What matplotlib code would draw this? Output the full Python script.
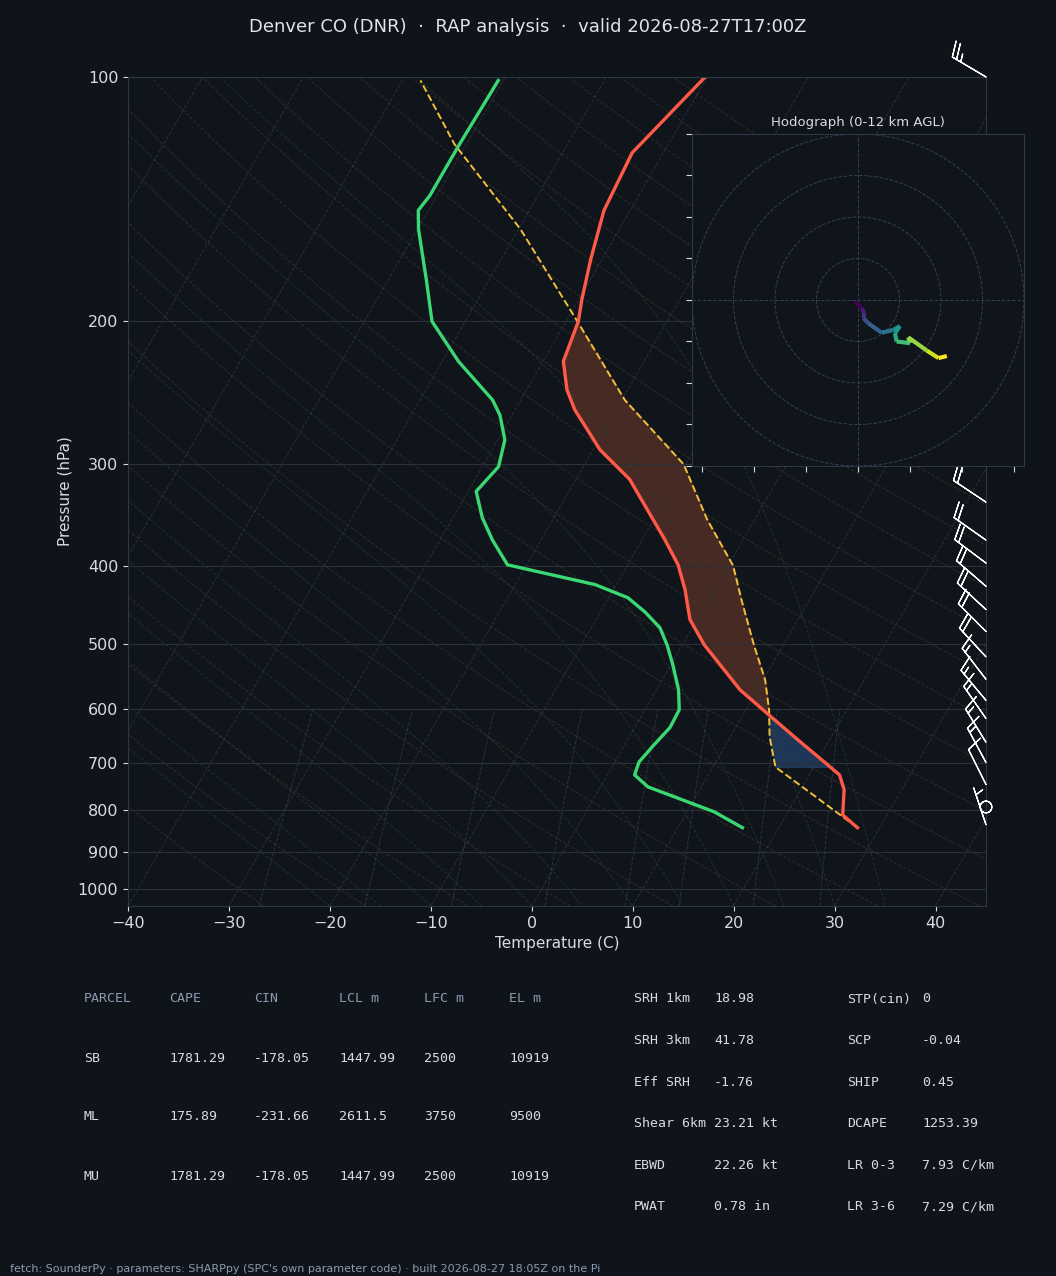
import numpy as np
import matplotlib
matplotlib.use('Agg')
import matplotlib.pyplot as plt
from matplotlib.collections import LineCollection

# Sounding
p_env = [841, 811, 755, 724, 703, 659, 611, 569, 501, 466, 428, 399, 372, 313, 288,
         257, 243, 224, 200, 188, 168, 146, 124, 100]
t_env = [27.8, 25.6, 24.3, 23.0, 21.2, 17.2, 12.6, 8.3, 2.2, -0.7, -2.9, -5.0, -7.7, -14.7, -19.3,
         -24.1, -26.0, -28.0, -28.8, -29.7, -31.1, -32.6, -33.1, -30.2]
p_dew = [841, 804, 749, 724, 698, 665, 633, 602, 569, 530, 501, 477, 456, 438, 422, 399, 372,
         349, 324, 302, 280, 261, 250, 224, 200, 178, 154, 146, 140, 122, 101]
t_dew = [16.4, 12.7, 4.7, 2.7, 2.4, 2.9, 3.5, 3.4, 2.2, 0.2, -1.5, -3.2, -5.6, -8.1, -12.1, -21.9, -24.8,
         -27.1, -29.2, -28.4, -29.3, -31.2, -32.8, -38.4, -43.3, -46.2, -49.9, -51.0, -50.7, -50.7, -50.5]
p_parcel = [841, 708, 650, 602, 553, 501, 441, 400, 351, 300, 250, 200, 154, 121, 101]
t_parcel = [27.8, 16.2, 13.9, 12.3, 10.2, 7.1, 3.3, 0.5, -4.7, -10.2, -19.7, -28.9, -39.8, -51.2, -58.2]

# Winds (kt)
p_wind = [100, 150, 200, 250, 300, 334, 372, 397, 424, 453, 482, 518, 552, 586, 617,
          660, 699, 744, 793, 834]
u_wind = [22, 20, 19, 19, 18, 18, 17, 16, 15, 14, 13, 12, 10, 10, 9, 8, 7, 5, 0, 1]
v_wind = [-13, -14, -14, -12, -13, -12, -12, -12, -13, -13, -13, -13, -13, -12, -13, -13,
          -13, -10, 0, -3]

# Hodograph trace (kt)
hodo_u = [-0.6, 0.9, 1.5, 1.3, 2.5, 5.7, 8.5, 10.1, 8.9, 9.3, 12.5, 12.1, 16.6, 19.4, 21.4]
hodo_v = [-0.4, -2.0, -3.2, -4.4, -5.6, -7.9, -7.2, -6.3, -8.0, -10.0, -10.4, -9.0, -12.2, -14.0, -13.5]

parcel_hdr = ['PARCEL', 'CAPE', 'CIN', 'LCL m', 'LFC m', 'EL m']
parcel_rows = [['SB', '1781.29', '-178.05', '1447.99', '2500', '10919'],
               ['ML', '175.89', '-231.66', '2611.5', '3750', '9500'],
               ['MU', '1781.29', '-178.05', '1447.99', '2500', '10919']]
param_left = [('SRH 1km', '18.98'), ('SRH 3km', '41.78'), ('Eff SRH', '-1.76'),
              ('Shear 6km', '23.21 kt'), ('EBWD', '22.26 kt'), ('PWAT', '0.78 in')]
param_right = [('STP(cin)', '0'), ('SCP', '-0.04'), ('SHIP', '0.45'),
               ('DCAPE', '1253.39'), ('LR 0-3', '7.93 C/km'), ('LR 3-6', '7.29 C/km')]

BG = '#0f131a'
SKEW = 46.4
P_BOT = 1050


def skew(t, p):
    return np.asarray(t) + SKEW * np.log10(P_BOT / np.asarray(p, dtype=float))


def moist_lapse(t0, p):
    # crude pseudo-adiabat integration from 1050 hPa
    out = []
    t = t0 + 273.15
    prev = p[0]
    for pp in p:
        dp = pp - prev
        es = 6.112 * np.exp(17.67 * (t - 273.15) / (t - 29.65))
        rs = 0.622 * es / (pp - es)
        num = 287.0 * t + 2.5e6 * rs
        den = 1004.0 + 2.5e6 ** 2 * rs * 0.622 / (287.0 * t * t)
        t = t + num / den / pp * dp
        prev = pp
        out.append(t - 273.15)
    return np.array(out)


fig = plt.figure(figsize=(10.56, 12.76), dpi=100, facecolor=BG)
ax = fig.add_axes([0.1212, 0.2900, 0.8125, 0.6497], facecolor='#10141b')
ax.set_yscale('log')
ax.set_ylim(P_BOT, 100)
ax.set_xlim(-40, 45)

pp = np.linspace(P_BOT, 100, 120)
for t in range(-120, 60, 10):
    ax.plot(skew(t, pp), pp, color='#353c47', lw=0.7, ls='--', alpha=0.7)
for th in range(-30, 200, 10):
    tk = (th + 273.15) * (pp / 1000.0) ** 0.286 - 273.15
    ax.plot(skew(tk, pp), pp, color='#463c2e', lw=0.7, ls='--', alpha=0.6)
pm = np.linspace(1050, 100, 200)
for t0 in range(-20, 40, 5):
    ax.plot(skew(moist_lapse(t0, pm), pm), pm, color='#2c4432', lw=0.7, ls='--', alpha=0.6)
pw = np.linspace(1050, 600, 50)
for w in [0.4, 1, 2, 4, 7, 10, 16, 24]:
    e = pw * w / 1000.0 / (0.622 + w / 1000.0)
    td = 243.5 * np.log(e / 6.112) / (17.67 - np.log(e / 6.112))
    ax.plot(skew(td, pw), pw, color='#36444a', lw=0.7, ls='--', alpha=0.7)

for p in [100, 200, 300, 400, 500, 600, 700, 800, 900, 1000]:
    ax.axhline(p, color='#2a313c', lw=0.8)

# CAPE / CIN shading
pg = np.linspace(841, 200, 400)
lp_e = np.log(p_env)[::-1]
lp_p = np.log(p_parcel)[::-1]
xe = skew(np.interp(np.log(pg), lp_e, np.array(t_env)[::-1]), pg)
xp = skew(np.interp(np.log(pg), lp_p, np.array(t_parcel)[::-1]), pg)
ax.fill_betweenx(pg, xe, xp, where=(xp > xe) & (pg < 620), color='#4a2c24', alpha=0.95)
ax.fill_betweenx(pg, xe, xp, where=(xe > xp) & (pg < 708) & (pg > 600), color='#1f3a5c', alpha=0.95)

ax.plot(skew(t_parcel, p_parcel), p_parcel, color='#f2c037', lw=1.4, ls='--')
ax.plot(skew(t_env, p_env), p_env, color='#ff5a48', lw=2.4)
ax.plot(skew(t_dew, p_dew), p_dew, color='#3ad872', lw=2.4)

ax.barbs(np.full(len(p_wind), 45.0), p_wind, u_wind, v_wind, length=7.5, color='white',
         lw=0.9, clip_on=False, zorder=5)

ticks = [100, 200, 300, 400, 500, 600, 700, 800, 900, 1000]
ax.set_yticks(ticks)
ax.set_yticklabels([str(t) for t in ticks])
ax.yaxis.set_minor_locator(matplotlib.ticker.NullLocator())
ax.set_xticks(range(-40, 50, 10))
ax.set_xticklabels(['\u2212%d' % -t if t < 0 else str(t) for t in range(-40, 50, 10)])
ax.tick_params(colors='#d8dce2', labelsize=11.5)
for s in ax.spines.values():
    s.set_color('#2e3746')
ax.set_xlabel('Temperature (C)', color='#d8dce2', fontsize=11)
ax.set_ylabel('Pressure (hPa)', color='#d8dce2', fontsize=11)

fig.text(0.5, 0.979, 'Denver CO (DNR)  \u00b7  RAP analysis  \u00b7  valid 2026-08-27T17:00Z',
         ha='center', va='center', color='#e0e3e8', fontsize=13)

# Hodograph inset
hx = fig.add_axes([0.6553, 0.6348, 0.3144, 0.2602], facecolor='#10141b', zorder=10)
hx.set_xlim(-40, 40)
hx.set_ylim(-40, 40)
for r in [10, 20, 30, 40]:
    hx.add_patch(plt.Circle((0, 0), r, fill=False, ls='--', lw=0.7, color='#34404f'))
hx.axhline(0, color='#34404f', ls='--', lw=0.7)
hx.axvline(0, color='#34404f', ls='--', lw=0.7)
pts = np.array([hodo_u, hodo_v]).T.reshape(-1, 1, 2)
segs = np.concatenate([pts[:-1], pts[1:]], axis=1)
lc = LineCollection(segs, cmap='viridis', linewidths=3)
lc.set_array(np.arange(len(segs)))
hx.add_collection(lc)
hx.set_xticks(np.arange(-37.5, 40, 12.5))
hx.set_yticks(np.arange(-40, 41, 10))
hx.set_xticklabels([])
hx.set_yticklabels([])
hx.tick_params(colors='#d8dce2', length=4)
for s in hx.spines.values():
    s.set_color('#2e3746')
hx.set_title('Hodograph (0-12 km AGL)', color='#d8dce2', fontsize=9.5, pad=6)

# Parameter tables
mono = 'DejaVu Sans Mono'
cols = [84, 169, 254, 339, 424, 509]
for j, h in enumerate(parcel_hdr):
    fig.text(cols[j] / 1056, 1 - 999 / 1276, h, family=mono, color='#8a9bb0', fontsize=9.5, va='center')
for i, row in enumerate(parcel_rows):
    for j, v in enumerate(row):
        fig.text(cols[j] / 1056, 1 - (1058 + 59 * i) / 1276, v, family=mono, color='#d8dce2',
                 fontsize=9.5, va='center')
for i in range(6):
    y = 1 - (999 + 41.6 * i) / 1276
    fig.text(634 / 1056, y, param_left[i][0], family=mono, color='#d8dce2', fontsize=9.5, va='center')
    fig.text(714 / 1056, y, param_left[i][1], family=mono, color='#d8dce2', fontsize=9.5, va='center')
    fig.text(847 / 1056, y, param_right[i][0], family=mono, color='#d8dce2', fontsize=9.5, va='center')
    fig.text(922 / 1056, y, param_right[i][1], family=mono, color='#d8dce2', fontsize=9.5, va='center')

fig.text(10 / 1056, 1 - 1269 / 1276,
         "fetch: SounderPy \u00b7 parameters: SHARPpy (SPC's own parameter code) \u00b7 built 2026-08-27 18:05Z on the Pi",
         color='#8a9bb0', fontsize=8, va='center')

fig.savefig('out.png', dpi=100, facecolor=BG)
